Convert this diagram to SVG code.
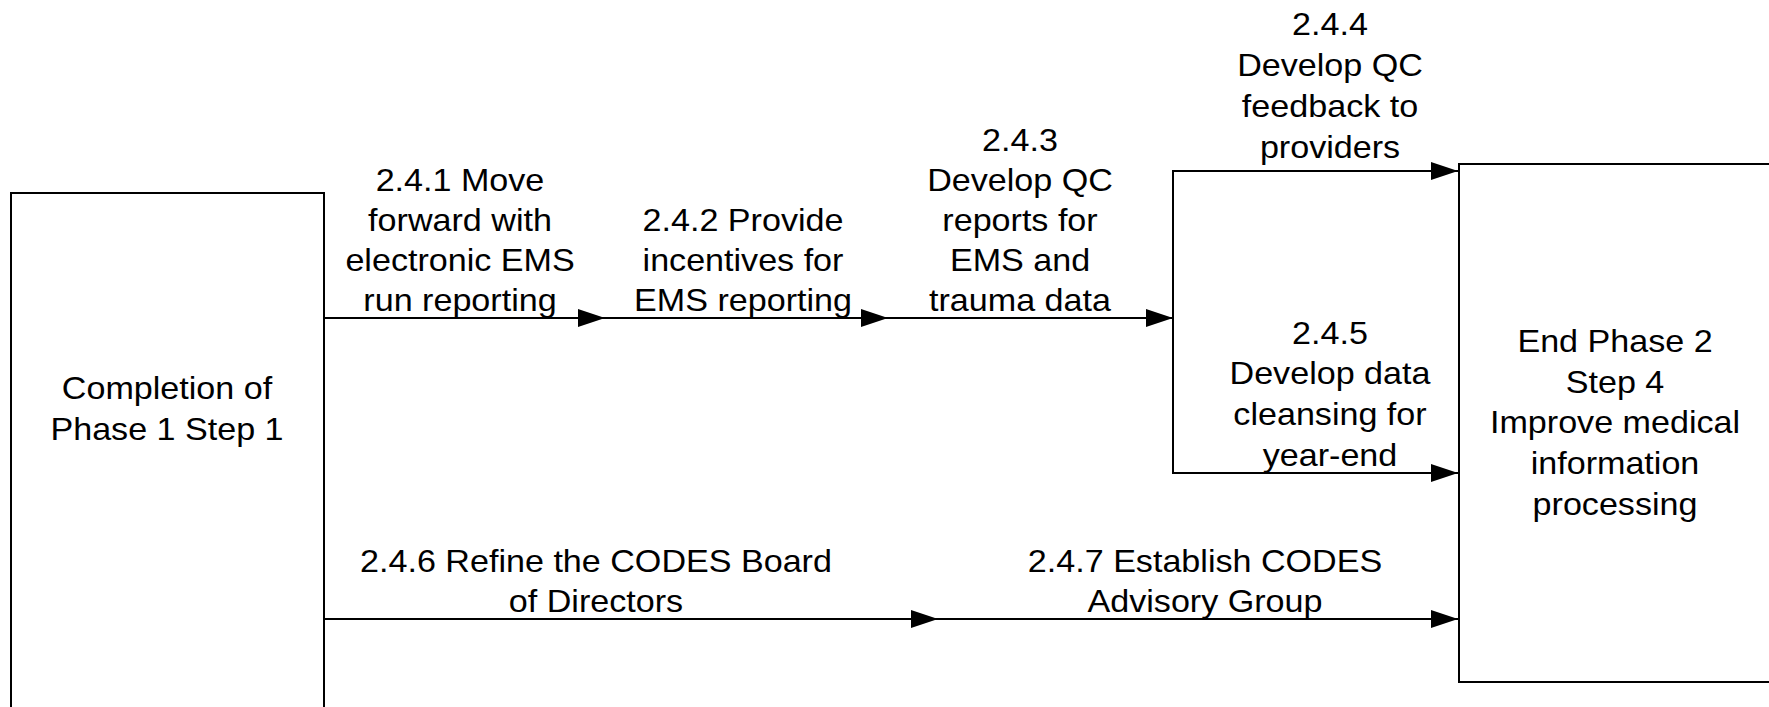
<svg xmlns="http://www.w3.org/2000/svg" width="1769" height="707" viewBox="0 0 1769 707">
  <style>
    .box { fill: #ffffff; stroke: #000000; stroke-width: 2; }
    .conn { fill: none; stroke: #000000; stroke-width: 2; marker-end: url(#arrow); }
    .t { font-family: "Liberation Sans", Arial, sans-serif; font-size: 31px; fill: #000000; text-anchor: middle; }
  </style>
  <defs>
    <marker id="arrow" markerUnits="userSpaceOnUse" markerWidth="28" markerHeight="20" refX="27" refY="9" orient="auto">
      <path d="M0,0 L27,9 L0,18 Z" fill="#000000"/>
    </marker>
  </defs>

  <rect width="1769" height="707" fill="#ffffff"/>

  <!-- start node -->
  <g id="start">
    <rect class="box" x="11" y="193" width="313" height="560"/>
    <g transform="translate(167 0) scale(1.1 1)">
      <text class="t" x="0" y="399">Completion of</text>
      <text class="t" x="0" y="440">Phase 1 Step 1</text>
    </g>
  </g>

  <!-- end node -->
  <g id="end">
    <rect class="box" x="1459" y="164" width="330" height="518"/>
    <g transform="translate(1615 0) scale(1.1 1)">
      <text class="t" x="0" y="352">End Phase 2</text>
      <text class="t" x="0" y="393">Step 4</text>
      <text class="t" x="0" y="433">Improve medical</text>
      <text class="t" x="0" y="474">information</text>
      <text class="t" x="0" y="515">processing</text>
    </g>
  </g>

  <!-- connectors -->
  <g id="connectors">
    <path class="conn" d="M324,318 H605"/>
    <path class="conn" d="M605,318 H888"/>
    <path class="conn" d="M888,318 H1173"/>
    <path class="conn" d="M1173,318 V171 H1458"/>
    <path class="conn" d="M1173,318 V473 H1458"/>
    <path class="conn" d="M324,619 H938"/>
    <path class="conn" d="M938,619 H1458"/>
  </g>

  <!-- connector labels -->
  <g id="labels">
    <g id="l241" transform="translate(460 0) scale(1.1 1)">
      <text class="t" x="0" y="191">2.4.1 Move</text>
      <text class="t" x="0" y="231">forward with</text>
      <text class="t" x="0" y="271">electronic EMS</text>
      <text class="t" x="0" y="311">run reporting</text>
    </g>
    <g id="l242" transform="translate(743 0) scale(1.1 1)">
      <text class="t" x="0" y="231">2.4.2 Provide</text>
      <text class="t" x="0" y="271">incentives for</text>
      <text class="t" x="0" y="311">EMS reporting</text>
    </g>
    <g id="l243" transform="translate(1020 0) scale(1.1 1)">
      <text class="t" x="0" y="151">2.4.3</text>
      <text class="t" x="0" y="191">Develop QC</text>
      <text class="t" x="0" y="231">reports for</text>
      <text class="t" x="0" y="271">EMS and</text>
      <text class="t" x="0" y="311">trauma data</text>
    </g>
    <g id="l244" transform="translate(1330 0) scale(1.1 1)">
      <text class="t" x="0" y="35">2.4.4</text>
      <text class="t" x="0" y="76">Develop QC</text>
      <text class="t" x="0" y="117">feedback to</text>
      <text class="t" x="0" y="158">providers</text>
    </g>
    <g id="l245" transform="translate(1330 0) scale(1.1 1)">
      <text class="t" x="0" y="344">2.4.5</text>
      <text class="t" x="0" y="384">Develop data</text>
      <text class="t" x="0" y="425">cleansing for</text>
      <text class="t" x="0" y="466">year-end</text>
    </g>
    <g id="l246" transform="translate(596 0) scale(1.1 1)">
      <text class="t" x="0" y="572">2.4.6 Refine the CODES Board</text>
      <text class="t" x="0" y="612">of Directors</text>
    </g>
    <g id="l247" transform="translate(1205 0) scale(1.1 1)">
      <text class="t" x="0" y="572">2.4.7 Establish CODES</text>
      <text class="t" x="0" y="612">Advisory Group</text>
    </g>
  </g>
</svg>
